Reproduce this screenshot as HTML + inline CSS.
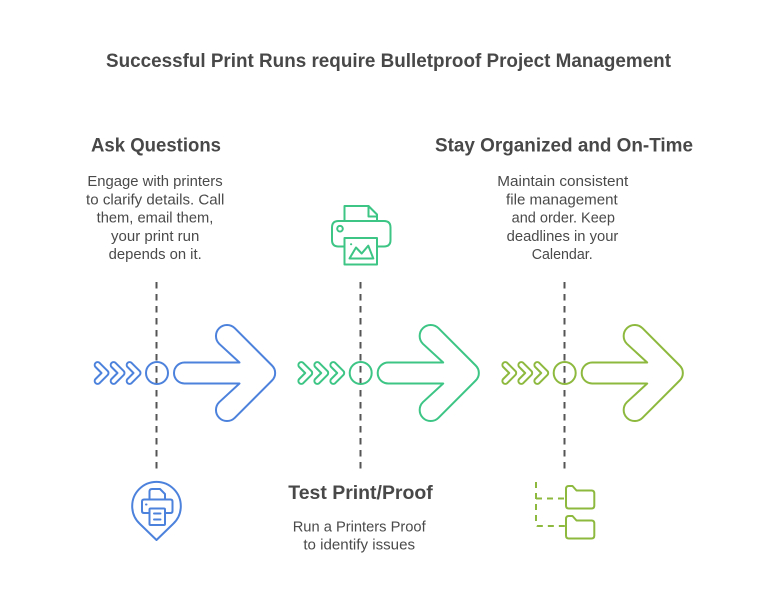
<!DOCTYPE html>
<html><head><meta charset="utf-8"><style>html,body{margin:0;padding:0;background:#fff}svg{display:block}
text{font-family:"Liberation Sans",sans-serif;fill:#484848;text-anchor:middle}
.h{font-weight:bold;font-size:19px}.b{font-size:14.800px;fill:#4a4a4a}</style></head><body>
<svg width="778" height="590" viewBox="0 0 778 590" xmlns="http://www.w3.org/2000/svg">
<defs>
<g id="arrowset" fill="none" stroke-width="2" stroke-linejoin="round">
<path d="M95.500 367a2.900 2.900 0 0 1 4.100-4.100l8 8a2.900 2.900 0 0 1 0 4.200l-8 8a2.900 2.900 0 0 1-4.100-4.100L101.500 373Z"/>
<path transform="translate(16 0)" d="M95.500 367a2.900 2.900 0 0 1 4.100-4.100l8 8a2.900 2.900 0 0 1 0 4.200l-8 8a2.900 2.900 0 0 1-4.100-4.100L101.500 373Z"/>
<path transform="translate(32 0)" d="M95.500 367a2.900 2.900 0 0 1 4.100-4.100l8 8a2.900 2.900 0 0 1 0 4.200l-8 8a2.900 2.900 0 0 1-4.100-4.100L101.500 373Z"/>
<circle cx="157" cy="373" r="11"/>
<path d="M184.500 362.500H239.500L219.200 343.800A11 11 0 0 1 234.800 328.200L272 365.500A10.500 10.500 0 0 1 272 380.500L234.800 417.800A11 11 0 0 1 219.200 402.200L239.500 383.500H184.500A10.500 10.500 0 0 1 184.500 362.500Z"/>
</g>
</defs>
<text class="h" x="388.500" y="67" textLength="565" lengthAdjust="spacingAndGlyphs">Successful Print Runs require Bulletproof Project Management</text>
<g stroke="#555" stroke-width="2" stroke-dasharray="6.500 5.500">
<path d="M156.500 282V470"/><path d="M360.500 282V470"/><path d="M564.500 282V470"/>
</g>
<use href="#arrowset" stroke="#4d82dc"/>
<use href="#arrowset" stroke="#3dc585" transform="translate(203.700 0)"/>
<use href="#arrowset" stroke="#8eb93f" transform="translate(407.700 0)"/>
<text class="h" x="156" y="151.300" textLength="130" lengthAdjust="spacingAndGlyphs">Ask Questions</text>
<text class="h" x="564" y="151.300" textLength="258" lengthAdjust="spacingAndGlyphs">Stay Organized and On-Time</text>
<text class="h" x="360.500" y="499.200" textLength="144.500" lengthAdjust="spacingAndGlyphs">Test Print/Proof</text>
<text class="b" x="155" y="186.200" textLength="135.300" lengthAdjust="spacingAndGlyphs">Engage with printers</text>
<text class="b" x="155.200" y="204.400" textLength="138.300" lengthAdjust="spacingAndGlyphs">to clarify details. Call</text>
<text class="b" x="155" y="222.700" textLength="116.700" lengthAdjust="spacingAndGlyphs">them, email them,</text>
<text class="b" x="155.200" y="240.900" textLength="88.300" lengthAdjust="spacingAndGlyphs">your print run</text>
<text class="b" x="155.200" y="259.100" textLength="93" lengthAdjust="spacingAndGlyphs">depends on it.</text>
<text class="b" x="562.800" y="186.200" textLength="131" lengthAdjust="spacingAndGlyphs">Maintain consistent</text>
<text class="b" x="561.900" y="204.400" textLength="111.700" lengthAdjust="spacingAndGlyphs">file management</text>
<text class="b" x="563.300" y="222.700" textLength="103.300" lengthAdjust="spacingAndGlyphs">and order. Keep</text>
<text class="b" x="562.500" y="240.900" textLength="111.700" lengthAdjust="spacingAndGlyphs">deadlines in your</text>
<text class="b" x="562.200" y="259.100" textLength="61" lengthAdjust="spacingAndGlyphs">Calendar.</text>
<text class="b" x="359.200" y="531.400" textLength="133" lengthAdjust="spacingAndGlyphs">Run a Printers Proof</text>
<text class="b" x="359.200" y="549.700" textLength="111.700" lengthAdjust="spacingAndGlyphs">to identify issues</text>
<!-- blue pin printer -->
<g fill="none" stroke="#4d82dc" stroke-width="2" stroke-linejoin="round" stroke-linecap="round">
<path d="M156.500 540L140 524A24.300 24.300 0 1 1 173 524Z"/>
<path d="M149.500 499V491.500Q149.500 489 152 489H160L165 494V499"/>
<path d="M149.500 513H144Q142 513 142 511V501.500Q142 499.500 144 499.500H170.500Q172.500 499.500 172.500 501.500V511Q172.500 513 170.500 513H165"/>
<rect x="149.500" y="508.500" width="15.500" height="16.500" rx="1"/>
<path d="M154 513.500H160.500M154 519.500H160.500M146 504.500H146.500"/>
</g>
<!-- green printer -->
<g fill="none" stroke="#3dc585" stroke-width="2" stroke-linejoin="round" stroke-linecap="round">
<path d="M344.500 220.500V206H368.500L377 214.500V220.500"/>
<path d="M368.500 206V216.500H377"/>
<path d="M344.500 246.500H338.500Q332 246.500 332 240V227.500Q332 221 338.500 221H384Q390.500 221 390.500 227.500V240Q390.500 246.500 384 246.500H377"/>
<rect x="344.500" y="238" width="32.500" height="26.500"/>
<circle cx="340" cy="228.700" r="2.800"/>
<path d="M349.500 258.500L356 247.500L361.700 253.500L368.300 245.700L373.300 258.500Z"/>
<path d="M351 244.300H351.200"/>
</g>
<!-- folders -->
<g fill="none" stroke="#8eb93f" stroke-width="2" stroke-linejoin="round">
<path d="M536 482V524Q536 526 538 526H565" stroke-dasharray="6 5"/>
<path d="M536 498.500H565" stroke-dasharray="6 5"/>
<path d="M566 489Q566 486 568.800 486H572.500L576.500 490.500H591.500Q594.300 490.500 594.300 493.500V505.500Q594.300 508.500 591.500 508.500H568.800Q566 508.500 566 505.500Z"/>
<path d="M566 519Q566 516 568.800 516H572.500L576.500 520.500H591.500Q594.300 520.500 594.300 523.500V535.500Q594.300 538.500 591.500 538.500H568.800Q566 538.500 566 535.500Z"/>
</g>
</svg>
</body></html>
